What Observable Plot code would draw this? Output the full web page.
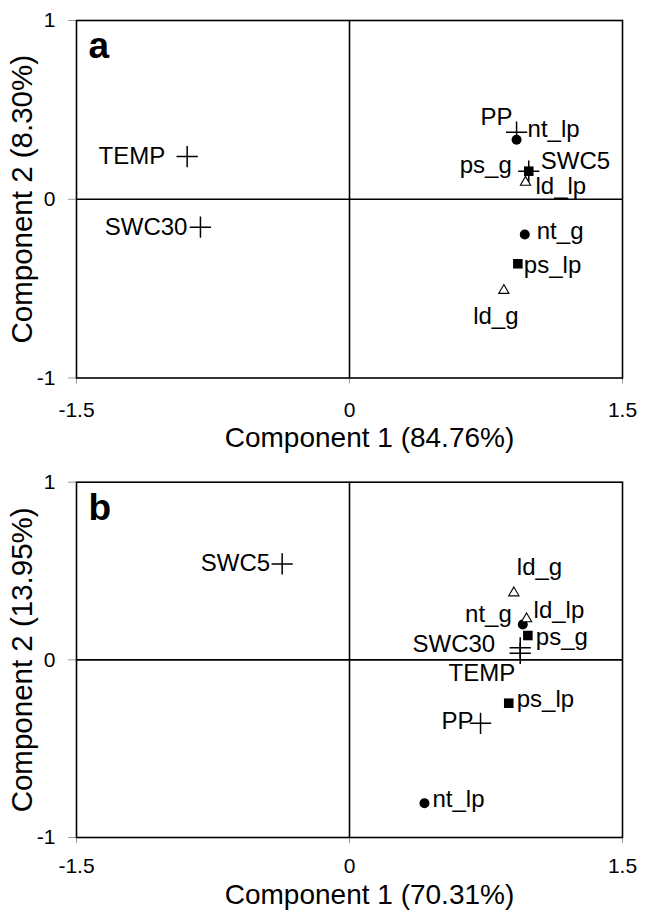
<!DOCTYPE html>
<html>
<head>
<meta charset="utf-8">
<script src="https://cdn.jsdelivr.net/npm/d3@7"></script>
<script src="https://cdn.jsdelivr.net/npm/@observablehq/plot@0.6"></script>
<style>
  html, body { margin: 0; padding: 0; background: white; }
  #chart svg { display: block; }
</style>
</head>
<body>
<div id="chart"></div>
<script>
// ---- data ----
const names = ["TEMP", "SWC30", "PP", "SWC5", "nt_lp", "nt_g", "ps_g", "ps_lp", "ld_lp", "ld_g"];
const groups = ["env", "env", "env", "env", "nt", "nt", "ps", "ps", "ld", "ld"];

const pc1A = [-0.892, -0.819, 0.918, 0.985, 0.918, 0.963, 0.985, 0.925, 0.967, 0.848];
const pc2A = [0.239, -0.156, 0.375, 0.157, 0.333, -0.197, 0.157, -0.361, 0.095, -0.510];

const pc1B = [0.938, 0.938, 0.720, -0.370, 0.412, 0.952, 0.980, 0.875, 0.973, 0.903];
const pc2B = [0.037, 0.068, -0.357, 0.540, -0.807, 0.199, 0.137, -0.244, 0.231, 0.377];

const panelLetters = ["a", "b"];
const xTitles = ["Component 1 (84.76%)", "Component 1 (70.31%)"];
const yTitles = ["Component 2 (8.30%)", "Component 2 (13.95%)"];
const xTicks = [-1.5, 0, 1.5];
const xTickLabels = ["-1.5", "0", "1.5"];
const yTicks = [-1, 0, 1];
const yTickLabels = ["-1", "0", "1"];

// ---- label placement (pixel offsets from each marker) ----
const labelLayoutA = {
  TEMP: ["end", -22, 0], SWC30: ["end", -13, 0], PP: ["end", -4, -15], SWC5: ["start", 12, -10],
  nt_lp: ["start", 11, -10], nt_g: ["start", 12, -3], ps_g: ["end", -17, -6], ps_lp: ["start", 6, 2],
  ld_lp: ["start", 10, 4], ld_g: ["middle", -8, 26]
};
const labelLayoutB = {
  TEMP: ["end", -5, 20], SWC30: ["end", -25, -3], PP: ["end", -7, -2], SWC5: ["end", -12, -1],
  nt_lp: ["start", 8, -4], nt_g: ["end", -11, -10], ps_g: ["start", 8, 2], ps_lp: ["start", 8, -4],
  ld_lp: ["start", 7, -9], ld_g: ["start", 3, -26]
};

const FONT = "'Liberation Sans', Arial, sans-serif";

function panel(pc1, pc2, layout, idx, m) {
  const rows = names.map((n, i) => ({name: n, group: groups[i], x: pc1[i], y: pc2[i]}));
  const by = g => rows.filter(r => r.group === g);
  const labelMarks = rows.map(r => {
    const [anchor, dx, dy] = layout[r.name];
    return Plot.text([r], {x: "x", y: "y", text: "name", textAnchor: anchor, lineAnchor: "middle",
      dx, dy, fontSize: 24, fill: "black"});
  });
  return Plot.plot({
    width: 649,
    height: 456,
    marginTop: m.top,
    marginBottom: m.bottom,
    marginLeft: 76,
    marginRight: 27,
    style: {fontFamily: FONT, fontSize: "21px", color: "black", background: "white"},
    x: {domain: [-1.5, 1.5]},
    y: {domain: [-1, 1]},
    marks: [
      Plot.ruleX([0], {stroke: "black", strokeWidth: 1.6}),
      Plot.ruleY([0], {stroke: "black", strokeWidth: 1.6}),
      Plot.axisX(xTicks, {anchor: "bottom", tickSize: 6, tickPadding: m.tickPad, stroke: "#999", color: "black",
        fontSize: 21, label: null, tickFormat: (d) => xTickLabels[xTicks.indexOf(d)]}),
      Plot.axisY(yTicks, {anchor: "left", tickSize: 8, tickPadding: 13, stroke: "#999", color: "black",
        fontSize: 21, label: null, tickFormat: (d) => yTickLabels[yTicks.indexOf(d)]}),
      Plot.frame({stroke: "black", strokeWidth: 1.6}),
      Plot.dot(by("env"), {x: "x", y: "y", symbol: "plus", r: 6.9, stroke: "black", strokeWidth: 1.5}),
      Plot.dot(by("ps"), {x: "x", y: "y", symbol: "square", r: 5.4, fill: "black", stroke: "none"}),
      Plot.dot(by("nt"), {x: "x", y: "y", symbol: "circle", r: 5, fill: "black", stroke: "none"}),
      Plot.dot(by("ld"), {x: "x", y: "y", symbol: "triangle", r: 3.8, fill: "white", stroke: "black", strokeWidth: 1.1}),
      ...labelMarks,
      Plot.text([panelLetters[idx]], {frameAnchor: "top-left", textAnchor: "start", lineAnchor: "middle",
        dx: 12, dy: 26, fontSize: 37, fontWeight: "bold", fill: "black"}),
      Plot.text([xTitles[idx]], {frameAnchor: "bottom", textAnchor: "middle", lineAnchor: "middle",
        dx: 20, dy: m.titleDy, fontSize: 28, fill: "black"}),
      Plot.text([yTitles[idx]], {frameAnchor: "left", textAnchor: "middle", lineAnchor: "middle",
        rotate: -90, dx: -54, fontSize: 29.5, fill: "black"})
    ]
  });
}

const root = document.getElementById("chart");
root.appendChild(panel(pc1A, pc2A, labelLayoutA, 0, {top: 20, bottom: 78.5, titleDy: 60, tickPad: 18}));
root.appendChild(panel(pc1B, pc2B, labelLayoutB, 1, {top: 25.7, bottom: 75, titleDy: 58, tickPad: 15}));
</script>
</body>
</html>
